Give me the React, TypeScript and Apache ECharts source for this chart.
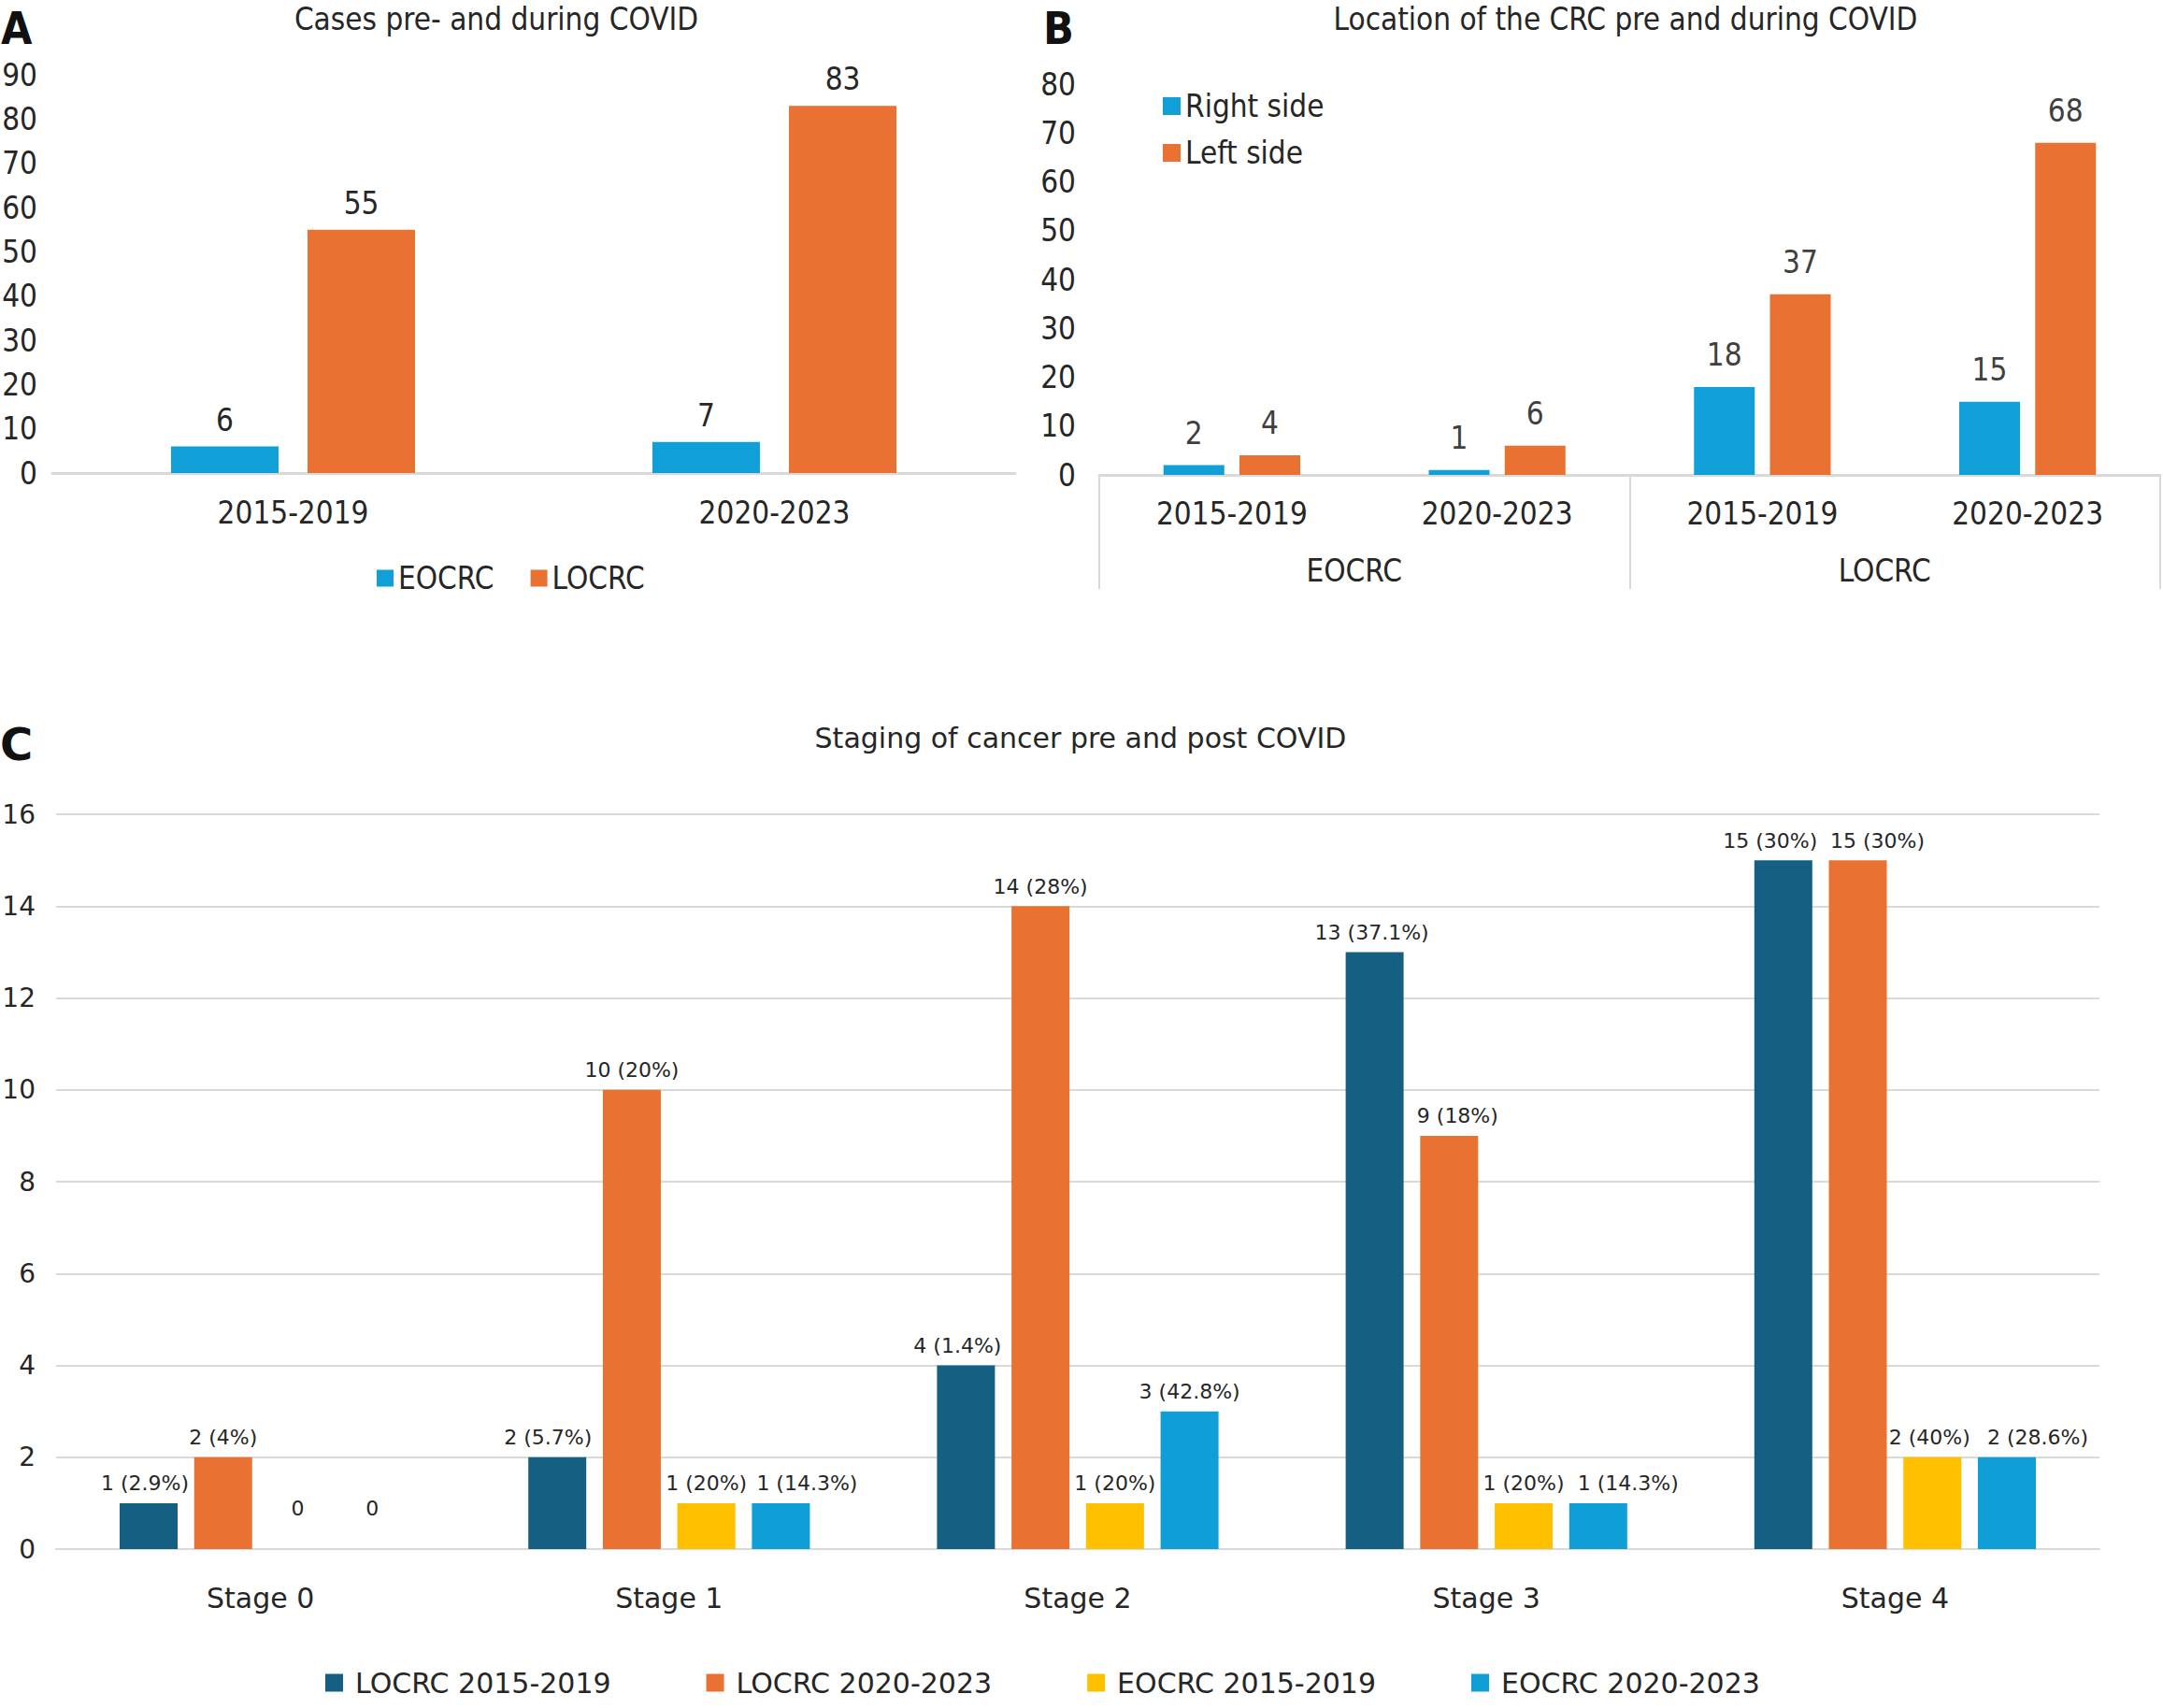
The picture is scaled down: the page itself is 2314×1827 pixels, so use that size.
import React, { useEffect, useRef } from 'react';
import * as echarts from 'echarts';

// ---------- Panel A data ----------
const aPeriods = ['2015-2019', '2020-2023'];
const aEOCRC = [6, 7];
const aLOCRC = [55, 83];
const aYTicks = { min: 0, max: 90, step: 10 };

// ---------- Panel B data ----------
const bPeriods = ['2015-2019', '2020-2023', '2015-2019', '2020-2023'];
const bGroups = ['EOCRC', 'LOCRC'];
const bRightSide = [2, 1, 18, 15];
const bLeftSide = [4, 6, 37, 68];
const bYTicks = { min: 0, max: 80, step: 10 };

// ---------- Panel C data ----------
const cStages = ['Stage 0', 'Stage 1', 'Stage 2', 'Stage 3', 'Stage 4'];
const cLocrcPre = [1, 2, 4, 13, 15];
const cLocrcPrePct = ['2.9%', '5.7%', '1.4%', '37.1%', '30%'];
const cLocrcPost = [2, 10, 14, 9, 15];
const cLocrcPostPct = ['4%', '20%', '28%', '18%', '30%'];
const cEocrcPre = [0, 1, 1, 1, 2];
const cEocrcPrePct = ['', '20%', '20%', '20%', '40%'];
const cEocrcPost = [0, 1, 3, 1, 2];
const cEocrcPostPct = ['', '14.3%', '42.8%', '14.3%', '28.6%'];
const cYTicks = { min: 0, max: 16, step: 2 };

// ---------- styles ----------
const BLUE = '#119FD7';
const ORANGE = '#E97132';
const DARK = '#156082';
const YELLOW = '#FFC000';
const BLUE_C = '#0F9ED5';
const GRID_GRAY = '#D9D9D9';
const TEXT = '#262626';
const FONT_AB = '"DejaVu Sans Condensed", "DejaVu Sans", sans-serif';
const FONT_C = '"DejaVu Sans", sans-serif';
const FS_AB = 33;

// horizontal nudges of panel C value labels (layout only)
const cShiftDark = [-4, -10, -9, -3, -14];
const cShiftOrange = [0, 0, 0, 9, 21];
const cShiftYellow = [0, 0, 0, 0, -3];
const cShiftBlue = [0, 28, 0, 32, 33];

function cSeries(name: string, values: number[], pcts: string[], color: string, shifts: number[]) {
  return {
    type: 'bar',
    name,
    xAxisIndex: 2,
    yAxisIndex: 2,
    barWidth: 62,
    barGap: '28.6%',
    itemStyle: { color },
    data: values.map((v, i) => ({ value: v, label: { offset: [shifts[i], v === 0 ? -23 : 0] } })),
    label: {
      show: true,
      position: 'top',
      distance: 10,
      fontSize: 22,
      fontFamily: FONT_C,
      color: TEXT,
      formatter: (p: any) => (pcts[p.dataIndex] ? `${p.value} (${pcts[p.dataIndex]})` : `${p.value}`),
    },
  };
}

function buildOption() {
  return {
    animation: false,
    backgroundColor: '#ffffff',
    textStyle: { fontFamily: FONT_C },
    graphic: [
      { type: 'text', x: 1, y: 6, style: { text: 'A', fontSize: 48, fontWeight: 'bold', fontFamily: FONT_AB, fill: '#111', textAlign: 'left', textVerticalAlign: 'top' } },
      { type: 'text', x: 1116, y: 6, style: { text: 'B', fontSize: 48, fontWeight: 'bold', fontFamily: FONT_AB, fill: '#111', textAlign: 'left', textVerticalAlign: 'top' } },
      { type: 'text', x: 0, y: 772, style: { text: 'C', fontSize: 48, fontWeight: 'bold', fontFamily: FONT_C, fill: '#111', textAlign: 'left', textVerticalAlign: 'top' } },
      { type: 'text', x: 531, y: 20, style: { text: 'Cases pre- and during COVID', fontSize: FS_AB, fontFamily: FONT_AB, fill: TEXT, textAlign: 'center', textVerticalAlign: 'middle' } },
      { type: 'text', x: 1739, y: 20, style: { text: 'Location of the CRC pre and during COVID', fontSize: FS_AB, fontFamily: FONT_AB, fill: TEXT, textAlign: 'center', textVerticalAlign: 'middle' } },
      { type: 'text', x: 1156, y: 789, style: { text: 'Staging of cancer pre and post COVID', fontSize: 30, fontFamily: FONT_C, fill: TEXT, textAlign: 'center', textVerticalAlign: 'middle' } },
    ],
    legend: [
      {
        data: ['EOCRC', 'LOCRC'],
        left: 398,
        top: 597,
        icon: 'rect',
        itemWidth: 18,
        itemHeight: 18,
        itemGap: 39,
        textStyle: { fontSize: FS_AB, fontFamily: FONT_AB, color: TEXT },
      },
      {
        data: ['Right side', 'Left side'],
        orient: 'vertical',
        left: 1239,
        top: 92,
        icon: 'rect',
        itemWidth: 19,
        itemHeight: 19,
        itemGap: 17,
        textStyle: { fontSize: FS_AB, fontFamily: FONT_AB, color: TEXT },
      },
      {
        data: ['LOCRC 2015-2019', 'LOCRC 2020-2023', 'EOCRC 2015-2019', 'EOCRC 2020-2023'],
        left: 343,
        top: 1780,
        icon: 'rect',
        itemWidth: 19,
        itemHeight: 19,
        itemGap: 102,
        textStyle: { fontSize: 30, fontFamily: FONT_C, color: TEXT, padding: [0, 0, 0, 8] },
      },
    ],
    grid: [
      { left: 56, top: 80, width: 1030, height: 426, outerBoundsMode: 'none' },
      { left: 1176, top: 90, width: 1135, height: 418, outerBoundsMode: 'none' },
      { left: 60, top: 871, width: 2186, height: 786, outerBoundsMode: 'none' },
    ],
    xAxis: [
      {
        gridIndex: 0,
        type: 'category',
        data: aPeriods,
        axisTick: { show: false },
        axisLine: { show: true, lineStyle: { color: GRID_GRAY, width: 3 } },
        axisLabel: { margin: 26, fontSize: FS_AB, fontFamily: FONT_AB, color: TEXT },
      },
      {
        gridIndex: 1,
        type: 'category',
        data: bPeriods,
        axisTick: { show: false },
        axisLine: { show: true, lineStyle: { color: GRID_GRAY, width: 3 } },
        axisLabel: { margin: 25, fontSize: FS_AB, fontFamily: FONT_AB, color: TEXT, interval: 0 },
      },
      {
        gridIndex: 2,
        type: 'category',
        data: cStages,
        axisTick: { show: false },
        axisLine: { show: true, lineStyle: { color: GRID_GRAY, width: 2 } },
        axisLabel: { margin: 37, fontSize: 30, fontFamily: FONT_C, color: TEXT },
      },
      {
        gridIndex: 1,
        type: 'category',
        position: 'bottom',
        data: bGroups,
        axisLine: { show: false },
        axisTick: { show: true, length: 122, interval: 0, lineStyle: { color: GRID_GRAY, width: 2 } },
        axisLabel: { margin: 86, fontSize: FS_AB, fontFamily: FONT_AB, color: TEXT, interval: 0, padding: [0, 22, 0, 0] },
      },
    ],
    yAxis: [
      {
        gridIndex: 0,
        type: 'value',
        min: aYTicks.min,
        max: aYTicks.max,
        interval: aYTicks.step,
        splitLine: { show: false },
        axisLine: { show: false },
        axisTick: { show: false },
        axisLabel: { margin: 16, fontSize: FS_AB, fontFamily: FONT_AB, color: TEXT },
      },
      {
        gridIndex: 1,
        type: 'value',
        min: bYTicks.min,
        max: bYTicks.max,
        interval: bYTicks.step,
        splitLine: { show: false },
        axisLine: { show: false },
        axisTick: { show: false },
        axisLabel: { margin: 25, fontSize: FS_AB, fontFamily: FONT_AB, color: TEXT },
      },
      {
        gridIndex: 2,
        type: 'value',
        min: cYTicks.min,
        max: cYTicks.max,
        interval: cYTicks.step,
        splitLine: { show: true, lineStyle: { color: GRID_GRAY, width: 2 } },
        axisLine: { show: false },
        axisTick: { show: false },
        axisLabel: { margin: 22, fontSize: 28, fontFamily: FONT_C, color: TEXT },
      },
    ],
    series: [
      {
        type: 'bar', name: 'EOCRC', xAxisIndex: 0, yAxisIndex: 0, data: aEOCRC,
        barWidth: 115, barGap: '27%', itemStyle: { color: BLUE },
        label: { show: true, position: 'top', distance: 12, fontSize: FS_AB, fontFamily: FONT_AB, color: TEXT },
      },
      {
        type: 'bar', name: 'LOCRC', xAxisIndex: 0, yAxisIndex: 0, data: aLOCRC,
        barWidth: 115, barGap: '27%', itemStyle: { color: ORANGE },
        label: { show: true, position: 'top', distance: 12, fontSize: FS_AB, fontFamily: FONT_AB, color: TEXT },
      },
      {
        type: 'bar', name: 'Right side', xAxisIndex: 1, yAxisIndex: 1, data: bRightSide,
        barWidth: 65, barGap: '25%', itemStyle: { color: BLUE },
        label: { show: true, position: 'top', distance: 18, fontSize: FS_AB, fontFamily: FONT_AB, color: '#404040' },
      },
      {
        type: 'bar', name: 'Left side', xAxisIndex: 1, yAxisIndex: 1, data: bLeftSide,
        barWidth: 65, barGap: '25%', itemStyle: { color: ORANGE },
        label: { show: true, position: 'top', distance: 18, fontSize: FS_AB, fontFamily: FONT_AB, color: '#404040' },
      },
      cSeries('LOCRC 2015-2019', cLocrcPre, cLocrcPrePct, DARK, cShiftDark),
      cSeries('LOCRC 2020-2023', cLocrcPost, cLocrcPostPct, ORANGE, cShiftOrange),
      cSeries('EOCRC 2015-2019', cEocrcPre, cEocrcPrePct, YELLOW, cShiftYellow),
      cSeries('EOCRC 2020-2023', cEocrcPost, cEocrcPostPct, BLUE_C, cShiftBlue),
    ],
  };
}

export default function App() {
  const ref = useRef<HTMLDivElement>(null);
  useEffect(() => {
    if (!ref.current) return;
    const chart = echarts.init(ref.current, null, { renderer: 'svg' });
    chart.setOption(buildOption() as any);
    return () => chart.dispose();
  }, []);
  return (
    <div
      ref={ref}
      style={{ position: 'absolute', left: 0, top: 0, width: 2314, height: 1827, background: '#ffffff' }}
    />
  );
}
